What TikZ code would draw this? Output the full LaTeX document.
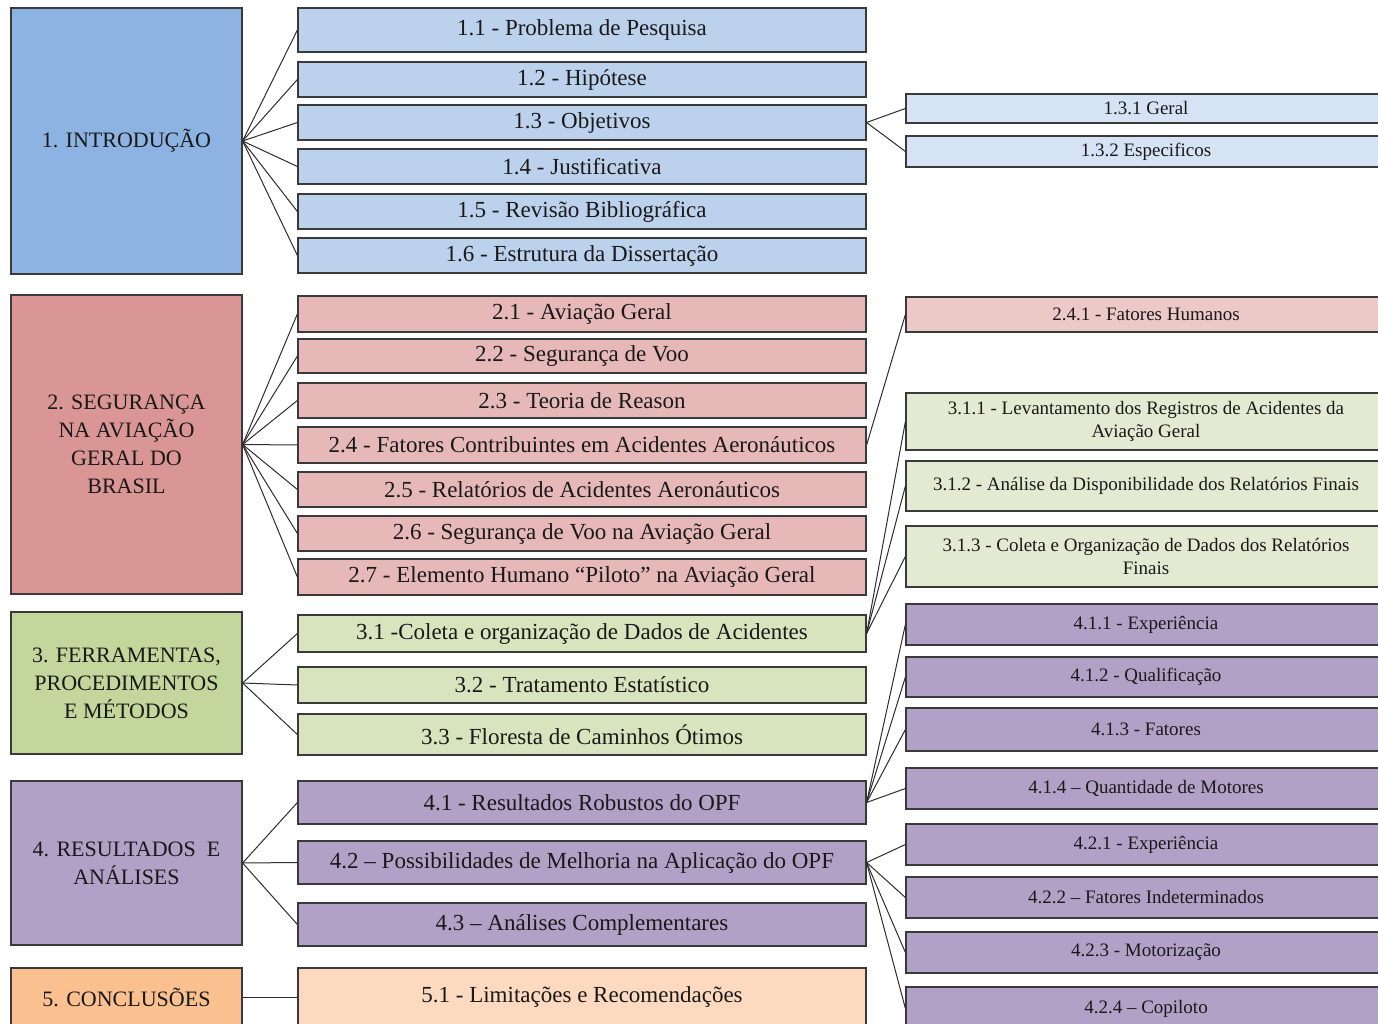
\documentclass[tikz,border=0pt]{standalone}
\usepackage{fontspec}
\setmainfont{Liberation Serif}
\definecolor{bordc}{HTML}{3A3A3A}
\definecolor{linec}{HTML}{2E2E2E}
\definecolor{blueA}{HTML}{8DB3E2}
\definecolor{blueB}{HTML}{BCD1EC}
\definecolor{blueC}{HTML}{D6E3F4}
\definecolor{redA}{HTML}{D99694}
\definecolor{redB}{HTML}{E6B9B8}
\definecolor{redC}{HTML}{ECC8C7}
\definecolor{grnA}{HTML}{C3D69B}
\definecolor{grnB}{HTML}{D7E4BD}
\definecolor{grnC}{HTML}{E2EBD2}
\definecolor{purA}{HTML}{B2A1C7}
\definecolor{orA}{HTML}{FAC090}
\definecolor{orB}{HTML}{FCD9BF}
\begin{document}
\begin{tikzpicture}[x=1pt,y=-1pt,
  box/.style={draw=bordc, line width=1.2pt, rectangle, inner sep=0pt, align=center, text=black!90},
  mainbox/.style={box, minimum width=231pt, font=\fontsize{22}{28}\selectfont},
  midbox/.style={box, minimum width=568pt, font=\fontsize{23}{26}\selectfont},
  subbox/.style={box, minimum width=480pt, font=\fontsize{19}{23}\selectfont},
  link/.style={draw=linec, line width=1pt}]
\useasboundingbox (0,0) rectangle (1378,1024);
\fill[white] (0,0) rectangle (1378,1024);

% main boxes
\node[mainbox, fill=blueA, minimum height=266pt] (m1) at (126.5,141) {1. INTRODUÇÃO};
\node[mainbox, fill=redA, minimum height=299pt] (m2) at (126.5,444.5) {2. SEGURANÇA\\NA AVIAÇÃO\\GERAL DO\\BRASIL};
\node[mainbox, fill=grnA, minimum height=142pt] (m3) at (126.5,683) {3. FERRAMENTAS,\\PROCEDIMENTOS\\E MÉTODOS};
\node[mainbox, fill=purA, minimum height=164pt] (m4) at (126.5,863) {4. RESULTADOS\ \ E\\ANÁLISES};
\node[mainbox, fill=orA, minimum height=58pt] (m5) at (126.5,997) {5. CONCLUSÕES};

% middle boxes
\node[midbox, fill=blueB, minimum height=44pt] (a11) at (582,30) {1.1 - Problema de Pesquisa};
\node[midbox, fill=blueB, minimum height=35pt] (a12) at (582,79.5) {1.2 - Hipótese};
\node[midbox, fill=blueB, minimum height=35pt] (a13) at (582,122.5) {1.3 - Objetivos};
\node[midbox, fill=blueB, minimum height=35pt] (a14) at (582,166.5) {1.4 - Justificativa};
\node[midbox, fill=blueB, minimum height=35pt] (a15) at (582,211.5) {1.5 - Revisão Bibliográfica};
\node[midbox, fill=blueB, minimum height=35pt] (a16) at (582,255.5) {1.6 - Estrutura da Dissertação};

\node[midbox, fill=redB, minimum height=36pt] (b21) at (582,314) {2.1 - Aviação Geral};
\node[midbox, fill=redB, minimum height=34pt] (b22) at (582,356) {2.2 - Segurança de Voo};
\node[midbox, fill=redB, minimum height=35pt] (b23) at (582,400.5) {2.3 - Teoria de Reason};
\node[midbox, fill=redB, minimum height=36pt] (b24) at (582,445) {2.4 - Fatores Contribuintes em Acidentes Aeronáuticos};
\node[midbox, fill=redB, minimum height=35pt] (b25) at (582,489.5) {2.5 - Relatórios de Acidentes Aeronáuticos};
\node[midbox, fill=redB, minimum height=35pt] (b26) at (582,533.5) {2.6 - Segurança de Voo na Aviação Geral};
\node[midbox, fill=redB, minimum height=36pt] (b27) at (582,577) {2.7 - Elemento Humano “Piloto” na Aviação Geral};

\node[midbox, fill=grnB, minimum height=37pt] (c31) at (582,633.5) {3.1 -Coleta e organização de Dados de Acidentes};
\node[midbox, fill=grnB, minimum height=36pt] (c32) at (582,685) {3.2 - Tratamento Estatístico};
\node[midbox, fill=grnB, minimum height=41pt] (c33) at (582,734.5) {3.3 - Floresta de Caminhos Ótimos};

\node[midbox, fill=purA, minimum height=43pt] (d41) at (582,802.5) {4.1 - Resultados Robustos do OPF};
\node[midbox, fill=purA, minimum height=43pt] (d42) at (582,862.5) {4.2 – Possibilidades de Melhoria na Aplicação do OPF};
\node[midbox, fill=purA, minimum height=43pt] (d43) at (582,924.5) {4.3 – Análises Complementares};

\node[midbox, fill=orB, minimum height=58pt] (e51) at (582,997) {5.1 - Limitações e Recomendações};

% right boxes
\node[subbox, fill=blueC, minimum height=29pt] (a131) at (1146,108.5) {1.3.1 Geral};
\node[subbox, fill=blueC, minimum height=31pt] (a132) at (1146,151.5) {1.3.2 Especificos};
\node[subbox, fill=redC, minimum height=35pt] (b241) at (1146,314.5) {2.4.1 - Fatores Humanos};
\node[subbox, fill=grnC, minimum height=57pt] (c311) at (1146,421.5) {3.1.1 - Levantamento dos Registros de Acidentes da\\Aviação Geral};
\node[subbox, fill=grnC, minimum height=50pt] (c312) at (1146,486) {3.1.2 - Análise da Disponibilidade dos Relatórios Finais};
\node[subbox, fill=grnC, minimum height=61pt] (c313) at (1146,556.5) {3.1.3 - Coleta e Organização de Dados dos Relatórios\\Finais};
\node[subbox, fill=purA, minimum height=41pt] (d411) at (1146,624.5) {4.1.1 - Experiência};
\node[subbox, fill=purA, minimum height=40pt] (d412) at (1146,677) {4.1.2 - Qualificação};
\node[subbox, fill=purA, minimum height=43pt] (d413) at (1146,729.5) {4.1.3 - Fatores};
\node[subbox, fill=purA, minimum height=41pt] (d414) at (1146,788.5) {4.1.4 – Quantidade de Motores};
\node[subbox, fill=purA, minimum height=41pt] (d421) at (1146,844.5) {4.2.1 - Experiência};
\node[subbox, fill=purA, minimum height=41pt] (d422) at (1146,897.5) {4.2.2 – Fatores Indeterminados};
\node[subbox, fill=purA, minimum height=41pt] (d423) at (1146,952.5) {4.2.3 - Motorização};
\node[subbox, fill=purA, minimum height=43pt] (d424) at (1146,1008.5) {4.2.4 – Copiloto};

% connectors
\foreach \t in {a11,a12,a13,a14,a15,a16} \draw[link] (m1.east) -- (\t.west);
\foreach \t in {b21,b22,b23,b24,b25,b26,b27} \draw[link] (m2.east) -- (\t.west);
\foreach \t in {c31,c32,c33} \draw[link] (m3.east) -- (\t.west);
\foreach \t in {d41,d42,d43} \draw[link] (m4.east) -- (\t.west);
\draw[link] (m5.east) -- (e51.west);
\foreach \t in {a131,a132} \draw[link] (a13.east) -- (\t.west);
\draw[link] (b24.east) -- (b241.west);
\foreach \t in {c311,c312,c313} \draw[link] (c31.east) -- (\t.west);
\foreach \t in {d411,d412,d413,d414} \draw[link] (d41.east) -- (\t.west);
\foreach \t in {d421,d422,d423,d424} \draw[link] (d42.east) -- (\t.west);
\end{tikzpicture}
\end{document}
